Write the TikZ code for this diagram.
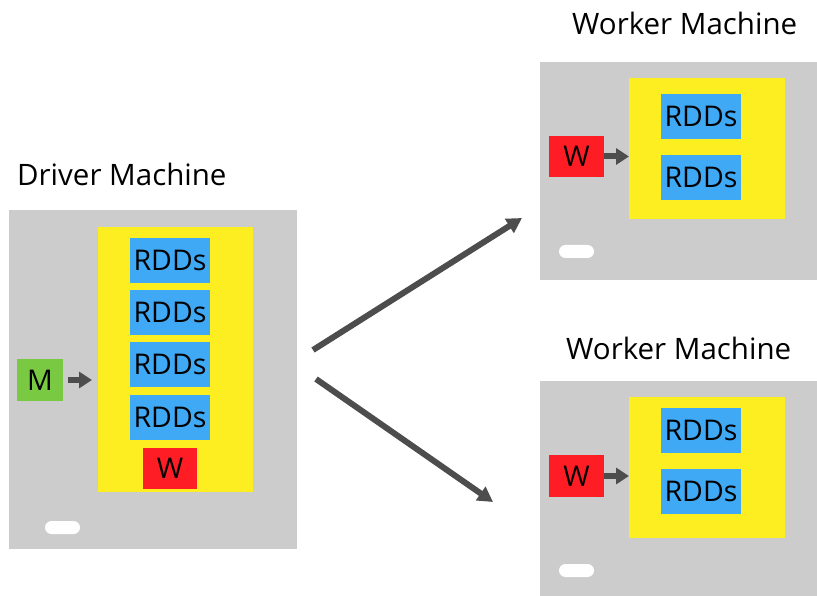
\documentclass[tikz,border=0pt]{standalone}
\usepackage{fontspec}
\setmainfont{Open Sans}
\usetikzlibrary{arrows.meta}

\definecolor{casegray}{HTML}{CCCCCC}
\definecolor{memyellow}{HTML}{FCEE21}
\definecolor{rddblue}{HTML}{3FA9F5}
\definecolor{workred}{HTML}{FF1D25}
\definecolor{mastergreen}{HTML}{7AC943}
\definecolor{arrowgray}{HTML}{4D4D4D}

\newcommand{\labelfont}{\fontsize{28.5}{31}\selectfont}
\newcommand{\titlefont}{\fontsize{29.5}{32}\selectfont}

\tikzset{
  box/.style={draw=none, inner sep=0pt, outer sep=0pt, anchor=center},
  machine/.style={box, fill=casegray},
  memory/.style={box, fill=memyellow},
  rdd/.style={box, fill=rddblue, minimum width=80pt, minimum height=45pt, font=\labelfont},
  worker/.style={box, fill=workred, minimum width=55pt, minimum height=41pt, font=\labelfont},
  master/.style={box, fill=mastergreen, minimum width=46pt, minimum height=42pt, font=\labelfont},
  slot/.style={box, fill=white, minimum width=35pt, minimum height=13pt, rounded corners=6.5pt},
  title/.style={inner sep=0pt, anchor=base west, font=\titlefont},
  smallarrow/.style={draw=arrowgray, line width=6pt, -{Triangle[length=13pt,width=16pt]}},
  bigarrow/.style={draw=arrowgray, line width=6pt, -{Triangle[length=15pt,width=16pt]}},
}

\begin{document}
\begin{tikzpicture}[x=1pt, y=-1pt]
  \useasboundingbox (0,0) rectangle (817,596);

  % ---- driver machine ----
  \node[title] (dtitle) at (17,186) {Driver Machine};
  \node[machine, minimum width=288pt, minimum height=339pt] (dcase) at (153,379.5) {};
  \node[memory, minimum width=155pt, minimum height=265pt] (dmem) at (175.5,359.5) {};
  \node[rdd] (dr1) at (170,260.5) {RDDs};
  \node[rdd] (dr2) at (170,312.5) {RDDs};
  \node[rdd] (dr3) at (170,364.5) {RDDs};
  \node[rdd] (dr4) at (170,417.5) {RDDs};
  \node[worker, minimum width=54pt] (dw) at (170,468.5) {W};
  \node[master] (dm) at (40,380) {M};
  \node[slot] (dslot) at (62.5,527.5) {};
  \draw[smallarrow, shorten <=5pt, shorten >=6pt] (dm.east) -- (dm.east -| dmem.west);

  % ---- upper worker machine ----
  \node[title] (t1title) at (572,35) {Worker Machine};
  \node[machine, minimum width=277pt, minimum height=218pt] (w1case) at (678.5,171) {};
  \node[memory, minimum width=156pt, minimum height=141pt] (w1mem) at (707,148.5) {};
  \node[rdd] (w1r1) at (701,116.5) {RDDs};
  \node[rdd] (w1r2) at (701,177.5) {RDDs};
  \node[worker] (w1w) at (576.5,156.5) {W};
  \node[slot] (w1slot) at (576.5,251.5) {};
  \draw[smallarrow] (w1w.east) -- (w1w.east -| w1mem.west);

  % ---- lower worker machine ----
  \node[title] (t2title) at (566,359) {Worker Machine};
  \node[machine, minimum width=277pt, minimum height=215pt] (w2case) at (678.5,488.5) {};
  \node[memory, minimum width=156pt, minimum height=141pt] (w2mem) at (707,467.5) {};
  \node[rdd] (w2r1) at (701,430.5) {RDDs};
  \node[rdd] (w2r2) at (701,491.5) {RDDs};
  \node[worker, minimum height=42pt] (w2w) at (576.5,476) {W};
  \node[slot] (w2slot) at (576.5,570.5) {};
  \draw[smallarrow] (w2w.east) -- (w2w.east -| w2mem.west);

  % ---- distribution arrows ----
  \coordinate (upstart) at (313,350);
  \coordinate (upend) at (522,218);
  \coordinate (downstart) at (316,379);
  \coordinate (downend) at (493,502);
  \draw[bigarrow] (upstart) -- (upend);
  \draw[bigarrow] (downstart) -- (downend);
\end{tikzpicture}
\end{document}
